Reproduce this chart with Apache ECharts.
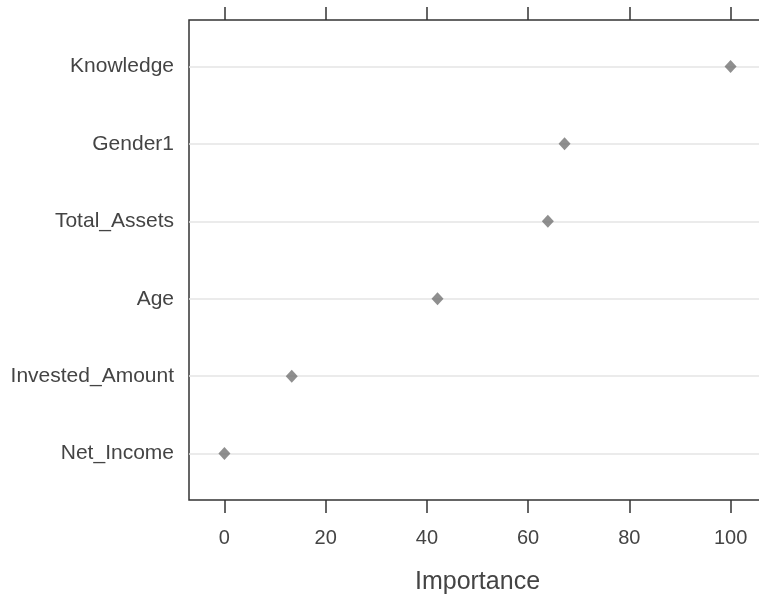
<!DOCTYPE html>
<html>
<head>
<meta charset="utf-8">
<script src="https://cdn.jsdelivr.net/npm/echarts@6/dist/echarts.min.js"></script>
<style>
  html, body { margin: 0; padding: 0; background: #ffffff; }
  #chart { width: 759px; height: 598px; }
</style>
</head>
<body>
<div id="chart"></div>
<script>
// Variable importance, listed bottom to top
const categories = ['Net_Income', 'Invested_Amount', 'Age', 'Total_Assets', 'Gender1', 'Knowledge'];
const importance = [0, 13.3, 42.1, 63.9, 67.2, 100];
const xTicks = [0, 20, 40, 60, 80, 100];
const xTitle = 'Importance';

const FONT = "'Liberation Sans', Arial, sans-serif";
const TEXT = '#444444';
const FRAME = '#333333';

// Category positions 1..n on a numeric y scale (padded like a dot plot)
const rowPos = categories.map((_, i) => i + 1);
const points = importance.map((v, i) => [v, rowPos[i]]);

const chart = echarts.init(document.getElementById('chart'), null, { renderer: 'canvas' });

chart.setOption({
  animation: false,
  backgroundColor: '#ffffff',
  grid: {
    left: 189, top: 20, width: 577, height: 480,
    containLabel: false,
    outerBoundsMode: 'none',
    show: true, borderColor: FRAME, borderWidth: 1.5,
    backgroundColor: 'transparent'
  },
  xAxis: [
    {
      type: 'value', position: 'bottom', min: -7, max: 107,
      axisLine: { show: false },
      axisTick: { show: true, inside: false, length: 13, customValues: xTicks,
                  lineStyle: { color: FRAME, width: 1.5 } },
      axisLabel: { customValues: xTicks, margin: 28, fontSize: 20, fontFamily: FONT, color: TEXT },
      splitLine: { show: false },
      name: xTitle, nameLocation: 'middle', nameGap: 70,
      nameTextStyle: { fontSize: 25, fontFamily: FONT, color: TEXT }
    },
    {
      type: 'value', position: 'top', min: -7, max: 107,
      axisLine: { show: false },
      axisTick: { show: true, inside: false, length: 13, customValues: xTicks,
                  lineStyle: { color: FRAME, width: 1.5 } },
      axisLabel: { show: false },
      splitLine: { show: false }
    }
  ],
  yAxis: {
    type: 'value', min: 0.4, max: 6.6,
    axisLine: { show: false },
    axisTick: { show: false },
    splitLine: { show: false },
    axisLabel: {
      customValues: rowPos, margin: 15, fontSize: 21, fontFamily: FONT, color: TEXT,
      formatter: v => categories[Math.round(v) - 1] || ''
    }
  },
  series: [{
    type: 'scatter',
    xAxisIndex: 0,
    data: points,
    symbol: 'diamond',
    symbolSize: [12, 13],
    itemStyle: { color: '#737373' },
    z: 5,
    markLine: {
      silent: true,
      symbol: 'none',
      label: { show: false },
      lineStyle: { color: '#e4e4e4', width: 1.5, type: 'solid' },
      data: rowPos.map(p => ({ yAxis: p }))
    }
  }]
});
</script>
</body>
</html>
